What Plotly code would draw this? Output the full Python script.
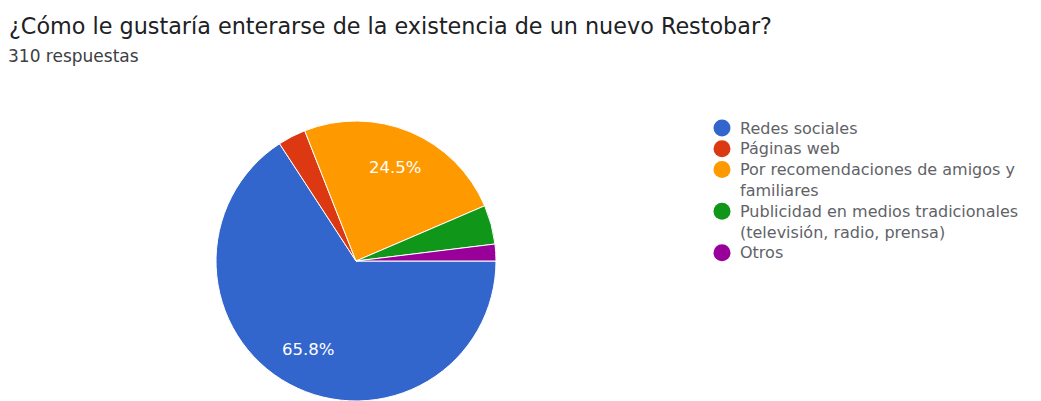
import math
import plotly.graph_objects as go

W, H = 1041, 401

title = "¿Cómo le gustaría enterarse de la existencia de un nuevo Restobar?"
subtitle = "310 respuestas"
categories = [
    "Redes sociales",
    "Páginas web",
    "Por recomendaciones de amigos y familiares",
    "Publicidad en medios tradicionales (televisión, radio, prensa)",
    "Otros",
]
legend_lines = [
    ["Redes sociales"],
    ["Páginas web"],
    ["Por recomendaciones de amigos y", "familiares"],
    ["Publicidad en medios tradicionales", "(televisión, radio, prensa)"],
    ["Otros"],
]
counts = [204, 10, 76, 14, 6]
colors = ["#3366CC", "#DC3912", "#FF9900", "#109618", "#990099"]

FONT = "DejaVu Sans, Roboto, Arial, sans-serif"


def px_x(x):
    return x / W


def px_y(y):
    return 1 - y / H


# pie geometry in pixels
cx, cy, r = 356, 261, 140
start_deg = 0  # first slice starts at 3 o'clock, running clockwise

fig = go.Figure()
fig.add_trace(go.Pie(
    labels=categories,
    values=counts,
    sort=False,
    direction="clockwise",
    rotation=90,
    marker=dict(colors=colors, line=dict(color="white", width=1)),
    textinfo="none",
    hoverinfo="label+percent+value",
    showlegend=False,
    domain=dict(x=[px_x(cx - r), px_x(cx + r)], y=[px_y(cy + r), px_y(cy - r)]),
))

shapes = []
annotations = [
    dict(text=title, x=px_x(7), y=px_y(26), xref="paper", yref="paper",
         xanchor="left", yanchor="middle", showarrow=False,
         font=dict(family=FONT, size=22.3, color="#202124")),
    dict(text=subtitle, x=px_x(6), y=px_y(56), xref="paper", yref="paper",
         xanchor="left", yanchor="middle", showarrow=False,
         font=dict(family=FONT, size=17, color="#3c4043")),
]

# percentage labels for slices of at least 5%, placed along each slice's mid-angle
total = sum(counts)
acc = 0
for c in counts:
    frac = c / total
    mid = math.radians(start_deg - 360 * (acc + c / 2) / total)
    acc += c
    if frac < 0.05:
        continue
    lx = cx + 0.72 * r * math.cos(mid)
    ly = cy - 0.72 * r * math.sin(mid)
    annotations.append(dict(
        text=f"{frac * 100:.1f}%", x=px_x(lx), y=px_y(ly),
        xref="paper", yref="paper", xanchor="center", yanchor="middle",
        showarrow=False, font=dict(family=FONT, size=16.5, color="#ffffff"),
    ))

# legend drawn as dots plus text blocks (wrapped entries kept in one block)
row_y0, row_h = 128, 20.8
row = 0
for lines, col in zip(legend_lines, colors):
    y = row_y0 + row * row_h
    shapes.append(dict(
        type="circle", xref="paper", yref="paper",
        xsizemode="pixel", ysizemode="pixel",
        xanchor=px_x(722), yanchor=px_y(y),
        x0=-8.5, x1=8.5, y0=-8.5, y1=8.5,
        fillcolor=col, line=dict(width=0),
    ))
    annotations.append(dict(
        text="<br>".join(lines), x=px_x(739), y=px_y(y - row_h / 2),
        xref="paper", yref="paper", align="left",
        xanchor="left", yanchor="top", showarrow=False, borderpad=0,
        font=dict(family=FONT, size=16, color="#5f6368"),
    ))
    row += len(lines)

fig.update_layout(
    width=W, height=H,
    margin=dict(l=0, r=0, t=0, b=0),
    paper_bgcolor="white",
    plot_bgcolor="white",
    shapes=shapes,
    annotations=annotations,
)

fig.write_html("out.html")
